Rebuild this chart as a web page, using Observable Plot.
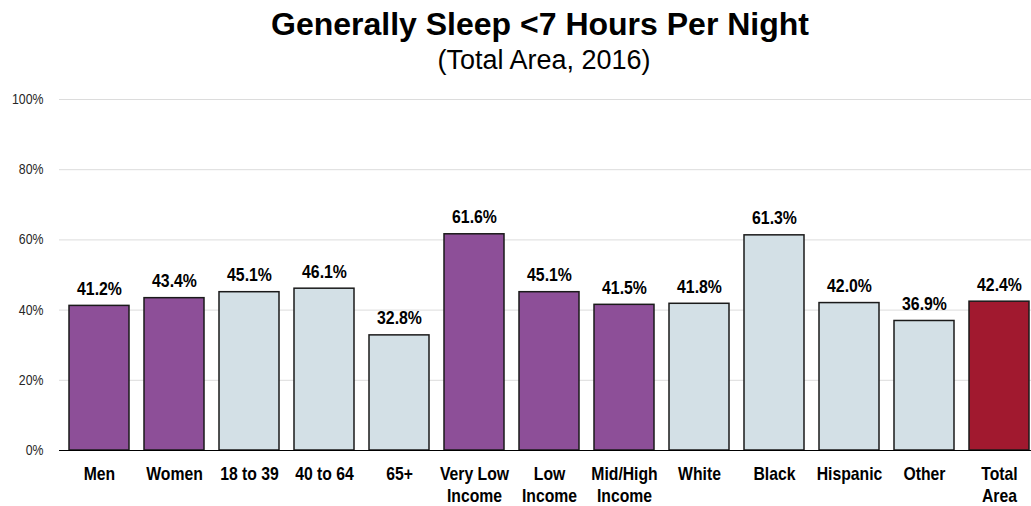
<!DOCTYPE html>
<html>
<head>
<meta charset="utf-8">
<script src="https://cdn.jsdelivr.net/npm/d3@7"></script>
<script src="https://cdn.jsdelivr.net/npm/@observablehq/plot@0.6"></script>
<style>
  html, body { margin: 0; padding: 0; background: #fff; }
  #wrap { position: relative; width: 1031px; height: 506px; overflow: hidden; }
  #header { position: relative; width: 1031px; height: 80px; }
  .title { position: absolute; left: 0; width: 1080px; text-align: center; top: 8px;
    font: bold 32px/32px "Liberation Sans", Arial, sans-serif; color: #000; }
  .subtitle { position: absolute; left: 0; width: 1088px; text-align: center; top: 47px;
    font: 27px/27px "Liberation Sans", Arial, sans-serif; color: #000; }
</style>
</head>
<body>
<div id="wrap">
  <div id="header">
    <div class="title">Generally Sleep &lt;7 Hours Per Night</div>
    <div class="subtitle">(Total Area, 2016)</div>
  </div>
  <div id="chart"></div>
</div>
<script>
const categories = ["Men","Women","18 to 39","40 to 64","65+","Very Low Income","Low Income","Mid/High Income","White","Black","Hispanic","Other","Total Area"];
const tickLabels = ["Men","Women","18 to 39","40 to 64","65+","Very Low\nIncome","Low\nIncome","Mid/High\nIncome","White","Black","Hispanic","Other","Total\nArea"];
const values = [41.2,43.4,45.1,46.1,32.8,61.6,45.1,41.5,41.8,61.3,42.0,36.9,42.4];
const groups = ["sex","sex","age","age","age","income","income","income","race","race","race","race","total"];
const groupNames = ["sex","income","age","race","total"];
const groupColors = ["#8D4F98","#8D4F98","#D3E0E6","#D3E0E6","#A1192F"];
const yTicks = [0,20,40,60,80,100];

const data = categories.map((c, i) => ({category: c, value: values[i], group: groups[i]}));
const labelOf = new Map(categories.map((c, i) => [c, tickLabels[i]]));
const font = '"Liberation Sans", Arial, sans-serif';

const chart = Plot.plot({
  width: 1031,
  height: 426,
  marginTop: 19,
  marginBottom: 56,
  marginLeft: 59,
  marginRight: -8,
  style: {fontFamily: font, background: "#fff", overflow: "hidden"},
  x: {domain: categories, paddingInner: 0.2, paddingOuter: 0.1},
  y: {domain: [0, 100]},
  color: {domain: groupNames, range: groupColors},
  marks: [
    Plot.ruleY(yTicks.filter(d => d > 0), {stroke: "#DCDCDC", strokeWidth: 1}),
    Plot.barY(data, {x: "category", y: "value", fill: "group", stroke: "#1a1a1a", strokeWidth: 1.5}),
    Plot.ruleY([0], {stroke: "#000", strokeWidth: 1.2}),
    Plot.text(data, {x: "category", y: "value", text: d => d.value.toFixed(1) + "%", lineAnchor: "bottom", dy: -11,
      fontSize: 18, fontWeight: "bold", fill: "#000", fontFamily: font, className: "narrowVal"}),
    Plot.axisY({ticks: yTicks, tickFormat: d => d + "%", tickSize: 0, tickPadding: 16, label: null,
      fontSize: 14, color: "#262626", fontFamily: font, className: "narrowY"}),
    Plot.axisX({tickFormat: d => labelOf.get(d), tickSize: 0, tickPadding: 13, label: null,
      fontSize: 17.5, fontWeight: "bold", lineHeight: 1.3, color: "#000", fontFamily: font, className: "narrowX"})
  ]
});

// Emulate a narrow typeface by compressing the texts horizontally around their anchors
function compress(selector, k) {
  chart.querySelectorAll(selector).forEach(t => {
    const tr = t.getAttribute("transform");
    if (tr) {
      t.setAttribute("transform", tr + ` scale(${k},1)`);
    } else {
      const x = +(t.getAttribute("x") || 0);
      t.setAttribute("transform", `translate(${x * (1 - k)},0) scale(${k},1)`);
    }
  });
}
compress(".narrowVal text", 0.88);
compress(".narrowY text", 0.88);
compress(".narrowX text", 0.9);
document.getElementById("chart").appendChild(chart);
</script>
</body>
</html>
